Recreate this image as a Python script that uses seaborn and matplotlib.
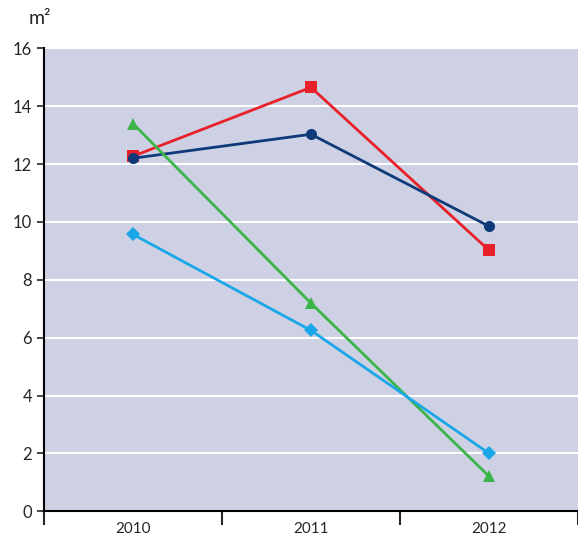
import seaborn as sns
import pandas as pd
import matplotlib.pyplot as plt

years = ['2010', '2011', '2012']
red_sq = [12.27, 14.65, 9.02]
navy_ci = [12.2, 13.03, 9.85]
green_tri = [13.4, 7.19, 1.21]
cyan_dia = [9.57, 6.25, 2.0]

sns.set_style('white')
plt.rcParams['font.family'] = ['Lato', 'DejaVu Sans']

fig = plt.figure(figsize=(5.78, 5.37), dpi=100)
ax = fig.add_axes([0.076, 0.048, 0.924, 0.862])
ax.set_facecolor('#cdd1e3')

series = [
    (red_sq, '#e8202a', 's', 8),
    (navy_ci, '#0f3a7a', 'o', 8),
    (green_tri, '#3bb54a', '^', 8),
    (cyan_dia, '#1aa7e8', 'D', 7),
]
x = list(range(len(years)))
for vals, col, mk, ms in series:
    df = pd.DataFrame({'x': x, 'y': vals})
    sns.lineplot(data=df, x='x', y='y', ax=ax, color=col, marker=mk,
                 markersize=ms, markeredgewidth=0, linewidth=2, zorder=3)

ax.set_ylim(0, 16)
ax.set_yticks(range(0, 17, 2))
ax.set_xlim(-0.5, 2.45)
ax.set_xticks(x)
ax.set_xticklabels(years)
ax.set_xticks([-0.5, 0.5, 1.5, 2.5], minor=True)
ax.grid(axis='y', color='white', linewidth=1.5, zorder=0)
ax.set_axisbelow(True)
for s in ['top', 'right']:
    ax.spines[s].set_visible(False)
for s in ['left', 'bottom']:
    ax.spines[s].set_color('black')
    ax.spines[s].set_linewidth(1.5)
ax.tick_params(axis='y', length=5, width=1.2, direction='out', left=True, labelsize=12)
ax.tick_params(axis='x', which='major', length=0, labelsize=11, pad=8)
ax.tick_params(axis='x', which='minor', length=10, width=1.5, direction='out', bottom=True)
ax.set_xlabel('')
ax.set_ylabel('')
fig.text(0.05, 0.955, 'm²', fontsize=14)

fig.savefig('out.png', dpi=100)
